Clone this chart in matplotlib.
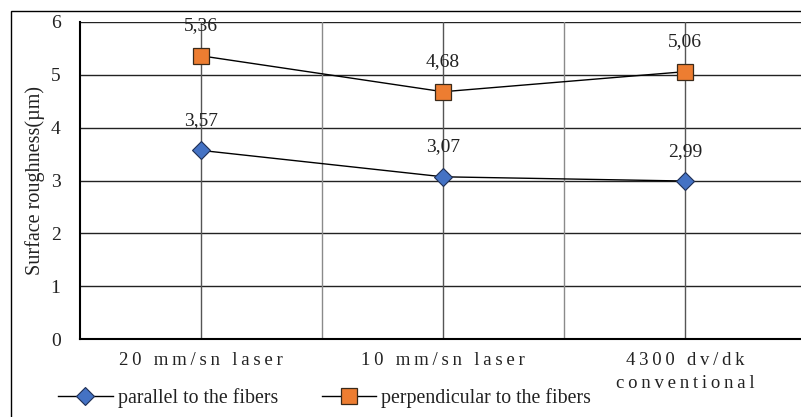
import matplotlib
matplotlib.use("Agg")
import matplotlib.pyplot as plt
from matplotlib.patches import Rectangle

categories = ["20 mm/sn laser", "10 mm/sn laser", "4300 dv/dk\nconventional"]
parallel = [3.57, 3.07, 2.99]
perpendicular = [5.36, 4.68, 5.06]
series_names = ["parallel to the fibers", "perpendicular to the fibers"]
y_ticks = [0, 1, 2, 3, 4, 5, 6]
y_label = "Surface roughness(\u00b5m)"

FAM = ["Liberation Serif", "DejaVu Serif"]
plt.rcParams["font.family"] = FAM
TXT = "#222222"

def spaced(s):
    return "\n".join("\u2009".join(list(line)) for line in s.split("\n"))

fig = plt.figure(figsize=(8.01, 4.17), dpi=100)
fig.patches.append(Rectangle((11/801, -0.1), 1.0, 1 - 11/417 + 0.1, transform=fig.transFigure,
                             fill=False, edgecolor="black", linewidth=1.0))
ax = fig.add_axes([80/801, 1 - 339/417, 726/801, 317/417])

x = list(range(len(categories)))
ax.set_xlim(-0.5, len(categories) - 0.5)
ax.set_ylim(0, 6)

# grid
for yv in y_ticks[1:]:
    ax.axhline(yv, color="#222222", lw=1.0, zorder=1)
for i in range(1, 2 * len(categories)):
    xv = i * 0.5 - 0.5
    ax.axvline(xv, color="#555555" if i % 2 == 1 else "#8a8a8a", lw=1.0, zorder=1)

ax.plot(x, parallel, color="black", lw=1.0, marker="D", markersize=9.5,
        markerfacecolor="#4472C4", markeredgecolor="#1f2f55", markeredgewidth=0.8,
        zorder=3, label=series_names[0])
ax.plot(x, perpendicular, color="black", lw=1.0, marker="s", markersize=12,
        markerfacecolor="#ED7D31", markeredgecolor="#3a2a1a", markeredgewidth=0.9,
        zorder=3, label=series_names[1])

for xi, v in zip(x, parallel):
    ax.annotate(f"{v:.2f}".replace(".", ","), (xi, v), xytext=(0, 21.5), textcoords="offset points",
                ha="center", va="center", fontsize=14, color=TXT)
for xi, v in zip(x, perpendicular):
    ax.annotate(f"{v:.2f}".replace(".", ","), (xi, v), xytext=(0, 21.5), textcoords="offset points",
                ha="center", va="center", fontsize=14, color=TXT)

ax.set_yticks(y_ticks)
ax.set_yticklabels([str(t) for t in y_ticks], fontsize=14, color=TXT)
ax.set_xticks(x)
ax.set_xticklabels([spaced(c) for c in categories], fontsize=13.5, color=TXT, linespacing=1.42)
ax.tick_params(axis="both", length=0)
ax.tick_params(axis="x", pad=9.5)
ax.tick_params(axis="y", pad=14)

for s in ["top", "right"]:
    ax.spines[s].set_visible(False)
ax.spines["left"].set_linewidth(1.5)
ax.spines["bottom"].set_linewidth(1.5)

ax.set_ylabel(y_label, fontsize=14.5, color=TXT, labelpad=4)

fig.legend(loc="center left", bbox_to_anchor=(50/801, 1 - 398/417), ncol=2, frameon=False,
           fontsize=14.3, handlelength=2.75, columnspacing=2.2, handletextpad=0.26,
           borderaxespad=0, labelcolor=TXT)

fig.savefig("out.png", dpi=100)
